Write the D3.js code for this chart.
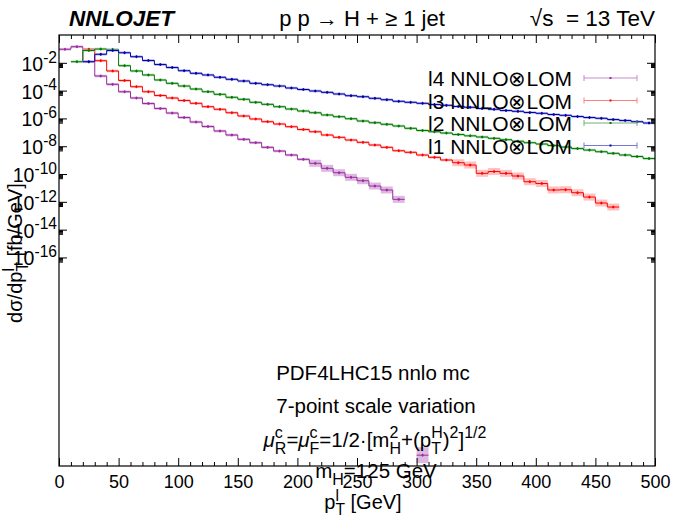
<!DOCTYPE html>
<html>
<head>
<meta charset="utf-8">
<script src="https://cdn.jsdelivr.net/npm/d3@7"></script>
<style>
  body { margin: 0; background: #fff; }
  svg { display: block; font-family: 'Liberation Sans', Arial, sans-serif; }
  text { white-space: pre; }
</style>
</head>
<body>
<div id="plot"></div>
<script>
(() => {
'use strict';

// bins are 10 GeV wide, values are d sigma / d pT in fb/GeV
const BIN = 10;

const l1Edges = d3.range(20, 500, BIN);
const l1Values = [1.2e-2, 4.1e-2, 7.7e-2, 5.3e-2, 2.75e-2, 1.46e-2, 7.5e-3, 4.6e-3, 2.7e-3, 1.76e-3,
  1.33e-3, 9.1e-4, 6.5e-4, 4.9e-4, 3.35e-4, 2.66e-4, 2.14e-4, 1.54e-4, 1.2e-4, 9.4e-5,
  7.5e-5, 5.7e-5, 4.3e-5, 3.64e-5, 2.79e-5, 2.21e-5, 1.7e-5, 1.44e-5, 1.22e-5, 1.0e-5,
  8.75e-6, 7.2e-6, 6.3e-6, 5.15e-6, 4.52e-6, 3.7e-6, 3.24e-6, 2.66e-6, 2.33e-6, 1.91e-6,
  1.67e-6, 1.37e-6, 1.16e-6, 1.02e-6, 8.3e-7, 7.1e-7, 5.8e-7, 4.67e-7];

const l2Edges = d3.range(10, 500, BIN);
const l2Values = [1.2e-2, 7.7e-2, 9.8e-2, 9.1e-2, 6.2e-3, 2.57e-3, 1.33e-3, 5.8e-4, 3.35e-4, 2.14e-4,
  1.3e-4, 8.3e-5, 5.4e-5, 3.3e-5, 2.37e-5, 1.44e-5, 1.03e-5, 6.95e-6, 4.74e-6, 3.4e-6,
  2.57e-6, 1.76e-6, 1.33e-6, 9.5e-7, 6.5e-7, 4.91e-7, 3.77e-7, 2.84e-7, 1.94e-7, 1.35e-7,
  1.1e-7, 8.9e-8, 6.95e-8, 5.6e-8, 4.59e-8, 3.7e-8, 2.94e-8, 2.29e-8, 1.79e-8, 1.44e-8,
  1.12e-8, 8.75e-9, 6.8e-9, 5.3e-9, 4.02e-9, 3.08e-9, 2.33e-9, 1.82e-9, 1.3e-9];

const l3Edges = d3.range(20, 470, BIN);
const l3Values = [9.4e-2, 1.42e-2, 2.57e-3, 5.3e-4, 1.91e-4, 8.3e-5, 4.44e-5, 2.94e-5, 1.94e-5, 1.22e-5,
  6.95e-6, 4.52e-6, 2.57e-6, 1.49e-6, 9.06e-7, 5.8e-7, 3.96e-7, 2.53e-7, 1.59e-7, 1.1e-7,
  6.4e-8, 4.37e-8, 2.79e-8, 1.91e-8, 1.22e-8, 8.3e-9, 4.74e-9, 3.64e-9, 2.33e-9, 1.59e-9,
  1.02e-9, 6.5e-10, 4.44e-10, 1.12e-10, 1.51e-10, 1.12e-10, 7.2e-11, 2.79e-11, 2.07e-11, 7.1e-12,
  7.4e-12, 4.52e-12, 2.21e-12, 8.2e-13, 4.23e-13];

const l4Edges = d3.range(0, 290, BIN).concat([300]);
const l4Values = [9.4e-2, 1.44e-1, 1.2e-2, 1.12e-3, 2.84e-4, 8.3e-5, 2.94e-5, 1.18e-5, 5.15e-6, 2.44e-6,
  1.16e-6, 5.5e-7, 2.61e-7, 1.24e-7, 6.4e-8, 3.13e-8, 1.79e-8, 8.3e-9, 4.5e-9, 2.33e-9,
  1.14e-9, 5.9e-10, 2.57e-10, 1.24e-10, 5.8e-11, 3.3e-11, 1.37e-11, 7.1e-12, 1.51e-12, 6e-31];

const seriesNames = ['l4 NNLO⊗LOM', 'l3 NNLO⊗LOM', 'l2 NNLO⊗LOM', 'l1 NNLO⊗LOM'];

const xTicks = d3.range(0, 501, 50);
const yTickExps = [-2, -4, -6, -8, -10, -12, -14, -16];

const WIDTH = 675;
const HEIGHT = 525;
const LEFT = 59, RIGHT = 655, TOP = 35, BOTTOM = 466;

const series = [
  { name: seriesNames[0], edges: l4Edges, values: l4Values, line: '#9a2b9e', band: '#d4a6da', key: '#c58ccc' },
  { name: seriesNames[1], edges: l3Edges, values: l3Values, line: '#ff0000', band: '#ffb0b0', key: '#ff8080' },
  { name: seriesNames[2], edges: l2Edges, values: l2Values, line: '#007800', band: '#a6d4a6', key: '#70b070' },
  { name: seriesNames[3], edges: l1Edges, values: l1Values, line: '#0000a8', band: '#a8a8e8', key: '#7878d8' }
];

const svg = d3.select('#plot')
  .append('svg')
  .attr('width', WIDTH)
  .attr('height', HEIGHT);

const x = d3.scaleLinear().domain([0, 500]).range([LEFT, RIGHT]);
const y = d3.scaleLog().domain([1e-31, 1]).range([BOTTOM, TOP]);

// text with stacked super/subscripts, measured piece by piece
const richText = (parent, px, py, parts, size, anchor, ratio = 0.78) => {
  const g = parent.append('g');
  let cur = 0;
  const small = size * ratio;
  parts.forEach((p) => {
    if (typeof p === 'string' || p.t) {
      const t = g.append('text')
        .attr('x', cur).attr('y', 0)
        .style('font-size', `${size}px`)
        .style('font-style', p.italic ? 'italic' : null)
        .text(typeof p === 'string' ? p : p.t);
      cur += t.node().getComputedTextLength();
    } else {
      let w = 0;
      if (p.sup) {
        const t = g.append('text').attr('x', cur).attr('y', -size * 0.42)
          .style('font-size', `${small}px`).text(p.sup);
        w = Math.max(w, t.node().getComputedTextLength());
      }
      if (p.sub) {
        const t = g.append('text').attr('x', cur).attr('y', size * 0.32)
          .style('font-size', `${small}px`).text(p.sub);
        w = Math.max(w, t.node().getComputedTextLength());
      }
      cur += w;
    }
  });
  const shift = anchor === 'end' ? -cur : anchor === 'middle' ? -cur / 2 : 0;
  g.attr('transform', `translate(${px + shift},${py})`);
  return g;
};

const bandPad = (v) => v < 1e-20 ? 8 : v < 1e-9 ? 3.5 : 1.3;

// bands, step lines and markers
const plot = svg.append('g');

series.forEach((s) => {
  const bins = s.edges.map((e, i) => ({ lo: e, hi: e + BIN, v: s.values[i] }));

  plot.append('g').selectAll('rect')
    .data(bins)
    .enter()
    .append('rect')
      .attr('x', (d) => x(d.lo))
      .attr('width', (d) => x(d.hi) - x(d.lo))
      .attr('y', (d) => y(d.v) - bandPad(d.v))
      .attr('height', (d) => 2 * bandPad(d.v))
      .attr('fill', s.band)
      .attr('opacity', 0.8);

  let path = '';
  bins.forEach((d, i) => {
    const prev = bins[i - 1];
    if (prev && prev.hi === d.lo) {
      path += `V${y(d.v)}H${x(d.hi)}`;
    } else {
      path += `M${x(d.lo)},${y(d.v)}H${x(d.hi)}`;
    }
  });
  plot.append('path')
    .attr('d', path)
    .attr('fill', 'none')
    .attr('stroke', s.line)
    .attr('stroke-width', 1);

  const marks = plot.append('g').selectAll('g')
    .data(bins)
    .enter()
    .append('g')
      .attr('transform', (d) => `translate(${x((d.lo + d.hi) / 2)},${y(d.v)})`);
  marks.append('line')
    .attr('y1', -1.5).attr('y2', 1.5)
    .attr('stroke', s.line).attr('stroke-width', 0.8);
  marks.append('rect')
    .attr('x', -1).attr('y', -1).attr('width', 2).attr('height', 2)
    .attr('fill', s.line);
});

// frame
svg.append('rect')
  .attr('x', LEFT).attr('y', TOP)
  .attr('width', RIGHT - LEFT).attr('height', BOTTOM - TOP)
  .attr('fill', 'none')
  .attr('stroke', '#000')
  .attr('stroke-width', 1.2);

// x ticks, bottom and top
const xMinor = d3.range(0, 501, 10).filter((v) => v % 50 !== 0);
const xAxis = d3.axisBottom(x).tickValues(xTicks).tickSize(-8).tickPadding(9).tickFormat(d3.format('d'));
const xAxisG = svg.append('g')
  .attr('transform', `translate(0,${BOTTOM})`)
  .call(xAxis);
xAxisG.select('.domain').remove();
xAxisG.selectAll('text').style('font-size', '18px').style('font-family', null).attr('fill', '#000');

svg.append('g')
  .attr('transform', `translate(0,${BOTTOM})`)
  .call(d3.axisBottom(x).tickValues(xMinor).tickSize(-4).tickFormat(''))
  .select('.domain').remove();
svg.append('g')
  .attr('transform', `translate(0,${TOP})`)
  .call(d3.axisTop(x).tickValues(xTicks).tickSize(-8).tickFormat(''))
  .select('.domain').remove();
svg.append('g')
  .attr('transform', `translate(0,${TOP})`)
  .call(d3.axisTop(x).tickValues(xMinor).tickSize(-4).tickFormat(''))
  .select('.domain').remove();

// y ticks, left and right
const yMajor = yTickExps.map((e) => Math.pow(10, e));
const yMinor = [];
yTickExps.forEach((e) => {
  [5, 6, 7, 8, 9].forEach((k) => yMinor.push(k * Math.pow(10, e - 1)));
});
[[d3.axisLeft, LEFT], [d3.axisRight, RIGHT]].forEach(([ax, pos]) => {
  svg.append('g')
    .attr('transform', `translate(${pos},0)`)
    .call(ax(y).tickValues(yMajor).tickSize(-8).tickFormat(''))
    .select('.domain').remove();
  svg.append('g')
    .attr('transform', `translate(${pos},0)`)
    .call(ax(y).tickValues(yMinor).tickSize(-4).tickFormat(''))
    .select('.domain').remove();
});

yTickExps.forEach((e) => {
  richText(svg, LEFT - 2, y(Math.pow(10, e)) + 8, ['10', { sup: String(e) }], 19.5, 'end', 0.8);
});

// titles
svg.append('text')
  .attr('x', 69).attr('y', 26)
  .style('font-size', '22.5px').style('font-weight', 'bold').style('font-style', 'italic')
  .text('NNLOJET');
svg.append('text')
  .attr('x', 362).attr('y', 26)
  .attr('text-anchor', 'middle')
  .style('font-size', '22px')
  .text('p p → H + ≥ 1 jet');
svg.append('text')
  .attr('x', 655).attr('y', 26)
  .attr('text-anchor', 'end')
  .style('font-size', '22.5px')
  .text('√s  = 13 TeV');

// axis labels
richText(svg, 363, 509, ['p', { sup: 'l', sub: 'T' }, ' [GeV]'], 20, 'middle');
const yLab = svg.append('g').attr('transform', 'translate(22,253) rotate(-90)');
richText(yLab, 0, 0, ['dσ/dp', { sup: 'l', sub: 'T' }, ' [fb/GeV]'], 20, 'middle');

// annotations
svg.append('text')
  .attr('x', 373).attr('y', 380)
  .attr('text-anchor', 'middle')
  .style('font-size', '20.5px')
  .text('PDF4LHC15 nnlo mc');
svg.append('text')
  .attr('x', 376).attr('y', 413)
  .attr('text-anchor', 'middle')
  .style('font-size', '20.5px')
  .text('7-point scale variation');
richText(svg, 375, 447, [{ t: 'μ', italic: true }, { sup: 'c', sub: 'R' }, '=', { t: 'μ', italic: true },
  { sup: 'c', sub: 'F' }, '=1/2·[m', { sup: '2', sub: 'H' }, '+(p', { sup: 'H', sub: 'T' }, ')',
  { sup: '2' }, ']', { sup: '1/2' }], 20.5, 'middle');
richText(svg, 376, 478, ['m', { sub: 'H' }, '=125 GeV'], 20.5, 'middle');

// legend
const legend = svg.selectAll('.legend')
  .data(series)
  .enter()
  .append('g')
    .attr('class', 'legend')
    .attr('transform', (d, i) => `translate(0,${78 + i * 22.5})`);

legend.append('text')
  .attr('x', 572).attr('y', 8)
  .attr('text-anchor', 'end')
  .style('font-size', '21px')
  .text((d) => d.name);
legend.append('line')
  .attr('x1', 584).attr('x2', 637)
  .attr('stroke', (d) => d.key).attr('stroke-width', 1);
legend.append('line')
  .attr('x1', 584).attr('x2', 584).attr('y1', -3).attr('y2', 3)
  .attr('stroke', (d) => d.key);
legend.append('line')
  .attr('x1', 637).attr('x2', 637).attr('y1', -3).attr('y2', 3)
  .attr('stroke', (d) => d.key);
legend.append('rect')
  .attr('x', 609.5).attr('y', -1).attr('width', 2).attr('height', 2)
  .attr('fill', (d) => d.line);

})();
</script>
</body>
</html>
